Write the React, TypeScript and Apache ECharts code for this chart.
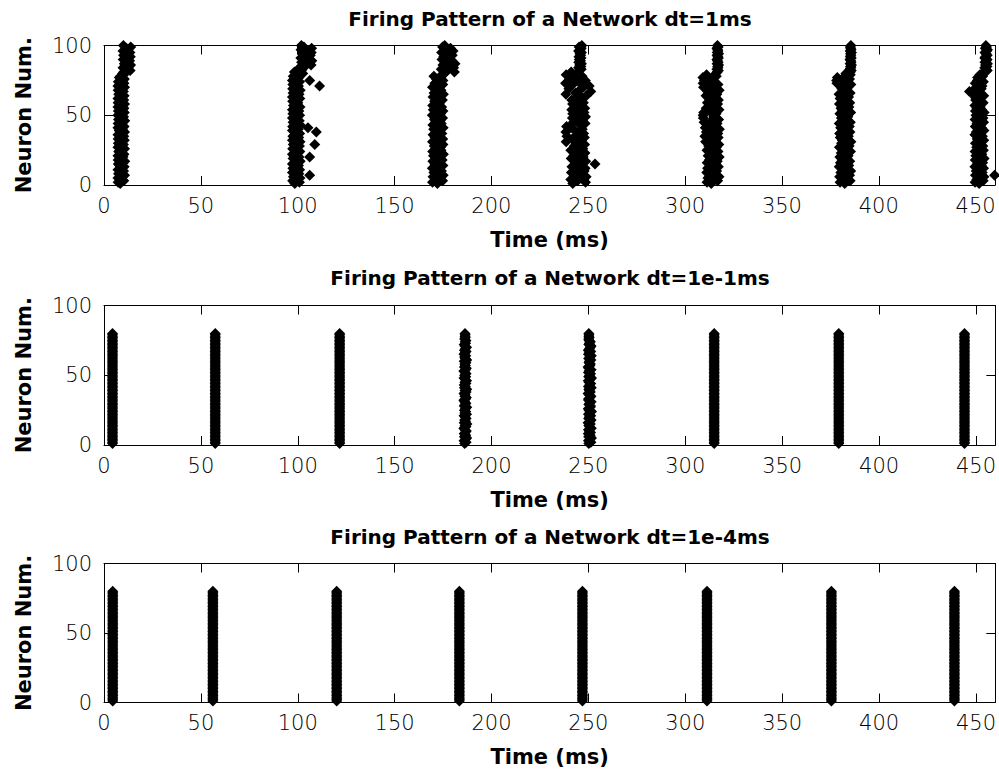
import React, { useEffect, useRef } from "react";
import * as echarts from "echarts";

// ---------- text ----------
const panelTitles = [
  "Firing Pattern of a Network dt=1ms",
  "Firing Pattern of a Network dt=1e-1ms",
  "Firing Pattern of a Network dt=1e-4ms",
];
const xAxisName = "Time (ms)";
const yAxisName = "Neuron Num.";

// ---------- axes ----------
const xMin = 0;
const xMax = 460;
const xStep = 50;
const yMin = 0;
const yMax = 100;
const yStep = 50;

// ---------- panel 1 (dt = 1 ms): spike time per neuron (neuron = index + 1) ----------
const topBurst1 = [
  8.4, 7.3, 10.2, 8.8, 7.2, 9.6, 10.6, 7.5, 8.9, 10.1,
  7.2, 9.1, 10.4, 8.1, 7.4, 9.9, 10.7, 7.3, 8.6, 9.8,
  7.2, 10.3, 8.5, 7.6, 9.4, 10.6, 7.2, 8.2, 10.0, 7.4,
  9.3, 10.5, 7.3, 8.7, 10.2, 7.2, 9.0, 10.6, 7.8, 9.5,
  7.2, 10.4, 8.3, 7.3, 9.7, 10.7, 7.5, 8.8, 10.1, 7.2,
  9.2, 10.5, 7.4, 8.4, 10.3, 7.2, 9.6, 10.6, 7.3, 8.9,
  10.2, 7.2, 9.1, 10.4, 7.6, 8.5, 10.0, 7.3, 9.4, 10.6,
  7.2, 8.7, 10.3, 7.4, 9.8, 10.5, 7.9, 8.6, 10.2, 9.6,
  10.2, 13.5, 11.6, 9.8, 12.9, 13.7, 10.5, 12.1, 13.2, 9.9,
  11.4, 13.6, 10.1, 12.6, 13.4, 9.8, 11.9, 11.5, 13.8, 10.0,
];
const topBurst2 = [
  98.5, 100.9, 97.4, 99.6, 101.2, 97.8, 99.1, 100.6, 97.3, 98.9,
  101.0, 97.5, 99.8, 100.4, 97.3, 98.2, 101.3, 99.3, 97.6, 100.7,
  98.0, 97.3, 100.2, 101.1, 98.7, 97.4, 99.5, 100.9, 97.7, 98.6,
  101.2, 97.3, 99.0, 100.5, 97.5, 98.4, 101.0, 99.7, 97.3, 100.3,
  98.1, 97.4, 101.3, 99.2, 97.6, 100.8, 98.8, 97.3, 99.9, 101.0,
  97.5, 98.3, 100.6, 97.3, 99.4, 101.2, 97.8, 98.9, 100.1, 97.4,
  99.6, 101.1, 97.3, 98.5, 100.7, 97.6, 99.0, 101.3, 97.4, 98.7,
  100.4, 97.5, 99.3, 101.0, 97.3, 98.2, 100.6, 97.7, 99.5, 102.6,
  98.3, 101.9, 100.2, 103.1, 101.8, 106.9, 104.2, 102.0, 107.3, 105.1,
  101.6, 103.8, 106.5, 102.4, 107.0, 104.6, 101.7, 107.2, 103.2, 101.9,
];
const topBurst3 = [
  172.1, 169.6, 174.8, 171.0, 173.5, 169.9, 175.1, 172.6, 170.3, 174.2,
  171.4, 169.5, 173.9, 175.0, 170.8, 172.9, 169.8, 174.6, 171.7, 173.2,
  170.1, 175.2, 172.4, 169.7, 174.0, 171.2, 173.7, 170.5, 175.0, 172.0,
  169.6, 173.4, 174.9, 170.9, 172.7, 169.9, 174.4, 171.5, 173.0, 170.2,
  175.1, 172.3, 169.8, 174.1, 171.1, 173.6, 170.6, 174.8, 172.5, 169.5,
  173.8, 171.3, 175.0, 170.0, 172.8, 174.3, 169.7, 171.9, 173.3, 170.7,
  174.7, 172.2, 169.9, 173.1, 175.2, 170.4, 172.6, 174.0, 171.0, 169.6,
  173.5, 174.9, 170.8, 172.1, 175.0, 171.6, 173.9, 170.3, 174.4, 175.8,
  180.9, 177.2, 174.1, 180.5, 178.0, 175.0, 181.2, 176.4, 179.6, 174.5,
  176.8, 175.4, 179.8, 177.5, 174.3, 180.2, 176.0, 178.9, 174.8, 175.9,
];
const topBurst4 = [
  242.0, 248.6, 244.5, 241.0, 246.8, 248.9, 243.2, 245.6, 241.3, 247.9,
  244.0, 248.4, 241.6, 246.2, 253.5, 243.5, 248.7, 245.0, 241.2, 247.4,
  242.5, 246.0, 248.3, 244.2, 241.0, 247.2, 245.3, 242.8, 248.1, 243.7,
  238.6, 246.5, 241.7, 248.0, 239.0, 244.6, 247.6, 238.5, 243.0, 246.9,
  240.0, 238.8, 245.8, 248.4, 242.3, 247.0, 244.1, 241.8, 248.6, 245.2,
  242.0, 247.8, 244.8, 241.5, 248.2, 243.4, 246.3, 241.9, 247.5, 244.4,
  241.5, 244.0, 246.5, 249.0, 238.5, 243.5, 251.3, 245.5, 240.0, 247.5,
  250.5, 242.0, 238.3, 245.0, 248.5, 240.5, 243.8, 246.8, 238.6, 244.5,
  241.2, 245.3, 246.4, 245.0, 246.2, 245.6, 246.5, 245.1, 246.0, 245.4,
  246.3, 245.2, 246.1, 245.7, 246.5, 245.0, 245.9, 246.4, 245.3, 246.7,
];
const topBurst5 = [
  313.5, 311.3, 316.8, 314.6, 311.8, 317.5, 312.9, 315.4, 311.2, 316.3,
  314.0, 311.6, 317.2, 313.1, 315.8, 311.4, 316.6, 312.5, 314.9, 317.6,
  311.9, 315.2, 313.7, 317.0, 311.3, 314.4, 316.2, 312.2, 317.4, 313.3,
  310.6, 315.6, 312.8, 317.1, 310.2, 314.2, 316.9, 311.0, 313.9, 317.7,
  310.4, 315.0, 312.0, 316.5, 309.8, 313.6, 317.3, 309.4, 314.8, 309.3,
  316.0, 309.6, 312.6, 317.5, 310.9, 315.3, 313.0, 316.8, 311.5, 314.1,
  317.2, 312.3, 315.7, 310.8, 316.4, 313.8, 311.7, 317.6, 314.5, 309.5,
  312.7, 317.0, 309.3, 315.1, 310.0, 313.4, 309.2, 316.1, 311.1, 315.9,
  316.6, 317.2, 316.4, 317.0, 316.8, 317.3, 316.5, 317.1, 316.7, 316.4,
  317.2, 316.9, 316.5, 317.3, 316.6, 317.0, 316.8, 316.4, 317.1, 316.7,
];
const topBurst6 = [
  382.4, 380.0, 385.2, 381.3, 383.8, 379.8, 384.9, 382.0, 380.4, 385.5,
  381.7, 383.3, 379.6, 384.5, 382.8, 380.2, 385.0, 381.0, 383.6, 379.9,
  384.2, 382.2, 380.6, 385.4, 381.5, 383.0, 379.7, 384.7, 382.5, 380.8,
  385.6, 381.2, 383.9, 380.1, 384.3, 382.7, 379.8, 385.1, 381.9, 383.4,
  380.3, 384.8, 382.1, 379.6, 385.3, 381.4, 383.7, 380.7, 384.0, 382.9,
  379.9, 385.5, 381.1, 383.2, 380.5, 384.6, 382.3, 379.7, 385.0, 381.6,
  383.5, 380.0, 384.4, 382.6, 379.5, 385.2, 381.8, 383.1, 380.9, 384.1,
  382.0, 385.6, 378.4, 381.3, 378.2, 384.9, 378.6, 382.4, 385.3, 383.0,
  385.3, 385.8, 385.1, 385.6, 385.4, 385.9, 385.2, 385.7, 385.5, 385.1,
  385.8, 385.3, 385.6, 385.4, 385.9, 385.2, 385.7, 385.5, 385.3, 385.6,
];
const topBurst7 = [
  451.8, 449.7, 453.9, 450.6, 452.7, 454.3, 449.9, 452.0, 453.4, 450.3,
  451.4, 454.1, 449.6, 452.9, 450.9, 453.6, 451.1, 449.8, 454.4, 452.3,
  450.1, 453.2, 451.6, 449.7, 454.0, 452.5, 450.5, 453.7, 451.2, 449.9,
  452.8, 454.2, 450.8, 451.9, 453.5, 449.6, 452.2, 450.4, 454.3, 451.5,
  453.0, 449.8, 452.6, 450.7, 454.1, 451.3, 449.7, 453.8, 452.1, 450.2,
  451.7, 454.4, 449.9, 453.1, 450.6, 452.4, 449.6, 451.0, 453.9, 452.8,
  450.0, 452.1, 449.7, 454.2, 451.6, 448.5, 446.8, 449.2, 452.9, 450.3,
  453.3, 451.4, 449.8, 454.0, 450.9, 452.3, 451.0, 453.6, 452.2, 453.5,
  454.9, 456.0, 455.3, 454.7, 455.8, 455.1, 456.1, 454.8, 455.5, 455.9,
  454.7, 455.2, 456.0, 455.4, 454.8, 455.7, 456.1, 455.0, 455.6, 455.3,
];
// late spikes in panel 1: [time, neuron]
const topExtraSpikes = [
  [106.2, 75], [111.3, 71], [105.3, 41], [109.6, 38], [108.8, 29], [106.2, 20], [106.2, 7],
  [459.8, 7],
];

// ---------- panel 2 (dt = 1e-1 ms) ----------
const midNeuronCount = 80;
const midSyncBurstTimes = [4.4, 57.4, 121.6, 314.9, 379.2, 444.1];
const midBurst4 = [
  186.1, 186.9, 185.8, 186.5, 187.2, 186.0, 186.7, 185.9, 186.4, 187.0,
  186.2, 185.7, 186.8, 186.3, 187.3, 185.9, 186.6, 186.1, 186.9, 186.4,
  185.8, 187.1, 186.2, 186.7, 186.0, 186.5, 187.2, 185.9, 186.3, 186.8,
  186.1, 185.7, 186.6, 187.0, 186.2, 186.4, 185.8, 186.9, 186.3, 187.2,
  186.0, 186.5, 185.9, 186.8, 186.2, 187.1, 186.4, 185.8, 186.7, 186.1,
  186.9, 186.3, 185.7, 186.6, 187.0, 186.0, 186.5, 186.2, 186.8, 185.9,
  187.2, 186.4, 186.1, 186.7, 185.8, 186.3, 186.9, 186.0, 186.5, 187.1,
  186.2, 185.9, 186.6, 186.4, 186.8, 186.1, 186.5, 186.3, 186.4, 186.3,
];
const midBurst5 = [
  250.2, 251.3, 250.0, 250.7, 251.6, 250.1, 250.9, 249.9, 251.1, 250.4,
  250.0, 251.5, 250.6, 250.2, 251.0, 249.8, 250.8, 251.4, 250.1, 250.5,
  251.2, 250.0, 250.7, 251.6, 250.3, 249.9, 250.9, 251.1, 250.2, 250.6,
  251.4, 250.1, 250.0, 250.8, 251.3, 250.4, 249.8, 251.0, 250.5, 250.2,
  251.5, 250.0, 250.7, 251.2, 250.3, 249.9, 250.9, 251.6, 250.1, 250.6,
  251.1, 250.0, 250.4, 251.4, 250.2, 249.8, 250.8, 251.0, 250.3, 250.5,
  251.3, 250.1, 250.7, 251.5, 250.0, 250.4, 251.2, 249.9, 250.6, 250.9,
  251.4, 250.2, 250.5, 251.0, 250.3, 250.1, 250.4, 250.2, 250.3, 250.2,
];

// ---------- panel 3 (dt = 1e-4 ms) ----------
const botNeuronCount = 80;
const botSyncBurstTimes = [4.5, 56.2, 120.1, 183.4, 246.9, 311.2, 375.4, 438.9];

// ---------- build data ----------
function perNeuron(times: number[]) {
  return times.map((t, i) => [t, i + 1]);
}
function synchronous(times: number[], count: number) {
  const out: number[][] = [];
  for (const t of times) {
    for (let n = 1; n <= count; n++) out.push([t, n]);
  }
  return out;
}

const topData = [
  ...perNeuron(topBurst1),
  ...perNeuron(topBurst2),
  ...perNeuron(topBurst3),
  ...perNeuron(topBurst4),
  ...perNeuron(topBurst5),
  ...perNeuron(topBurst6),
  ...perNeuron(topBurst7),
  ...topExtraSpikes,
];
const midData = [
  ...synchronous(midSyncBurstTimes, midNeuronCount),
  ...perNeuron(midBurst4),
  ...perNeuron(midBurst5),
];
const botData = synchronous(botSyncBurstTimes, botNeuronCount);
const panelData = [topData, midData, botData];

const FONT = "DejaVu Sans";

export default function App() {
  const ref = useRef<HTMLDivElement>(null);

  useEffect(() => {
    if (!ref.current) return;
    const chart = echarts.init(ref.current, undefined, { renderer: "svg" });

    const grids = [
      { left: 104, top: 45.5, width: 891, height: 139.5 },
      { left: 104, top: 305.5, width: 893, height: 139.5 },
      { left: 104, top: 563.5, width: 893, height: 139 },
    ];
    const titleTops = [9, 267.5, 527];

    const lineStyle = { color: "#000", width: 1 };
    const nameStyle = { fontFamily: FONT, fontWeight: "bold", fontSize: 21, color: "#000" };
    const xAxes: any[] = [];
    const yAxes: any[] = [];
    const series: any[] = [];

    grids.forEach((_, k) => {
      xAxes.push({
        type: "value",
        gridIndex: k,
        position: "bottom",
        min: xMin,
        max: xMax,
        interval: xStep,
        axisLine: { show: true, onZero: false, lineStyle },
        axisTick: { show: true, inside: true, length: 9, lineStyle },
        axisLabel: {
          show: true,
          margin: 10,
          color: "#000",
          fontFamily: FONT,
          fontWeight: 200,
          fontSize: 21,
          showMaxLabel: false,
        },
        splitLine: { show: false },
        name: xAxisName,
        nameLocation: "middle",
        nameGap: 44,
        nameTextStyle: nameStyle,
      });
      xAxes.push({
        type: "value",
        gridIndex: k,
        position: "top",
        min: xMin,
        max: xMax,
        interval: xStep,
        axisLine: { show: true, onZero: false, lineStyle },
        axisTick: { show: true, inside: true, length: 9, lineStyle },
        axisLabel: { show: false },
        splitLine: { show: false },
      });
      yAxes.push({
        type: "value",
        gridIndex: k,
        position: "left",
        min: yMin,
        max: yMax,
        interval: yStep,
        axisLine: { show: true, onZero: false, lineStyle },
        axisTick: { show: true, inside: true, length: 9, lineStyle },
        axisLabel: {
          show: true,
          margin: 12,
          color: "#000",
          fontFamily: FONT,
          fontWeight: 200,
          fontSize: 21,
        },
        splitLine: { show: false },
        name: yAxisName,
        nameLocation: "middle",
        nameGap: 70,
        nameRotate: 90,
        nameTextStyle: nameStyle,
      });
      yAxes.push({
        type: "value",
        gridIndex: k,
        position: "right",
        min: yMin,
        max: yMax,
        interval: yStep,
        axisLine: { show: true, onZero: false, lineStyle },
        axisTick: { show: true, inside: true, length: 9, lineStyle },
        axisLabel: { show: false },
        splitLine: { show: false },
      });
      series.push({
        type: "scatter",
        xAxisIndex: 2 * k,
        yAxisIndex: 2 * k,
        symbol: "diamond",
        symbolSize: 11,
        itemStyle: { color: "#000", opacity: 1, borderWidth: 0 },
        data: panelData[k],
        clip: false,
        silent: true,
      });
    });

    chart.setOption({
      animation: false,
      backgroundColor: "#fff",
      title: panelTitles.map((t, k) => ({
        text: t,
        left: 550,
        top: titleTops[k],
        textAlign: "center",
        padding: 0,
        textStyle: { fontFamily: FONT, fontWeight: "bold", fontSize: 20, color: "#000" },
      })),
      grid: grids,
      xAxis: xAxes,
      yAxis: yAxes,
      series,
    });

    return () => chart.dispose();
  }, []);

  return (
    <div
      ref={ref}
      style={{ position: "absolute", left: 0, top: 0, width: 999, height: 775, background: "#fff" }}
    />
  );
}
